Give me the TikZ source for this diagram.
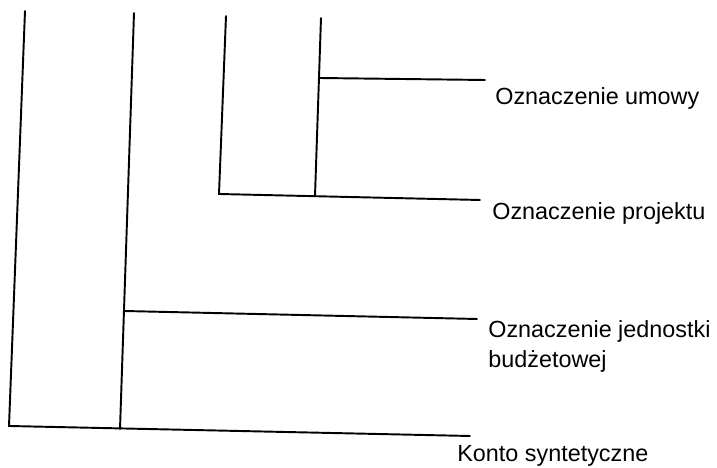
\documentclass[tikz,border=0pt]{standalone}
\usepackage{fontspec}
\setmainfont{Liberation Sans}
\usetikzlibrary{positioning}
\tikzstyle{stem} = [line width=1.1pt, line cap=round, line join=miter]
\tikzstyle{desc} = [anchor=base west, inner sep=0pt, font=\fontsize{13.3}{17}\selectfont]

\begin{document}
\begin{tikzpicture}[]
		\useasboundingbox (0,0) rectangle (14.34,9.36);

		% konto syntetyczne
		\coordinate (ks-top) at (0.50,9.14);
		\coordinate (ks-bot) at (0.18,0.84);
		\coordinate (ks-end) at (9.40,0.64);
		\draw[stem] (ks-top) -- (ks-bot) -- (ks-end);

		% jednostka budzetowa
		\coordinate (jb-top) at (2.68,9.10);
		\coordinate (jb-bot) at (2.40,0.78);
		\coordinate (jb-off) at (2.48,3.14);
		\coordinate (jb-end) at (9.54,2.98);
		\draw[stem] (jb-top) -- (jb-bot);
		\draw[stem] (jb-off) -- (jb-end);

		% projekt
		\coordinate (pr-top) at (4.52,9.04);
		\coordinate (pr-bot) at (4.38,5.48);
		\coordinate (pr-end) at (9.60,5.36);
		\draw[stem] (pr-top) -- (pr-bot) -- (pr-end);

		% umowa
		\coordinate (um-top) at (6.42,9.00);
		\coordinate (um-bot) at (6.30,5.44);
		\coordinate (um-off) at (6.38,7.80);
		\coordinate (um-end) at (9.70,7.76);
		\draw[stem] (um-top) -- (um-bot);
		\draw[stem] (um-off) -- (um-end);

		\node[desc] (umowa) at (9.90,7.26) {Oznaczenie umowy};
		\node[desc] (projekt) at (9.84,4.96) {Oznaczenie projektu};
		\node[desc] (jednostka) at (9.76,2.60) {Oznaczenie jednostki};
		\node[desc] (budzet) at (9.76,2.00) {bud\.zetowej};
		\node[desc] (konto) at (9.14,0.12) {Konto syntetyczne};
	\end{tikzpicture}
\end{document}
